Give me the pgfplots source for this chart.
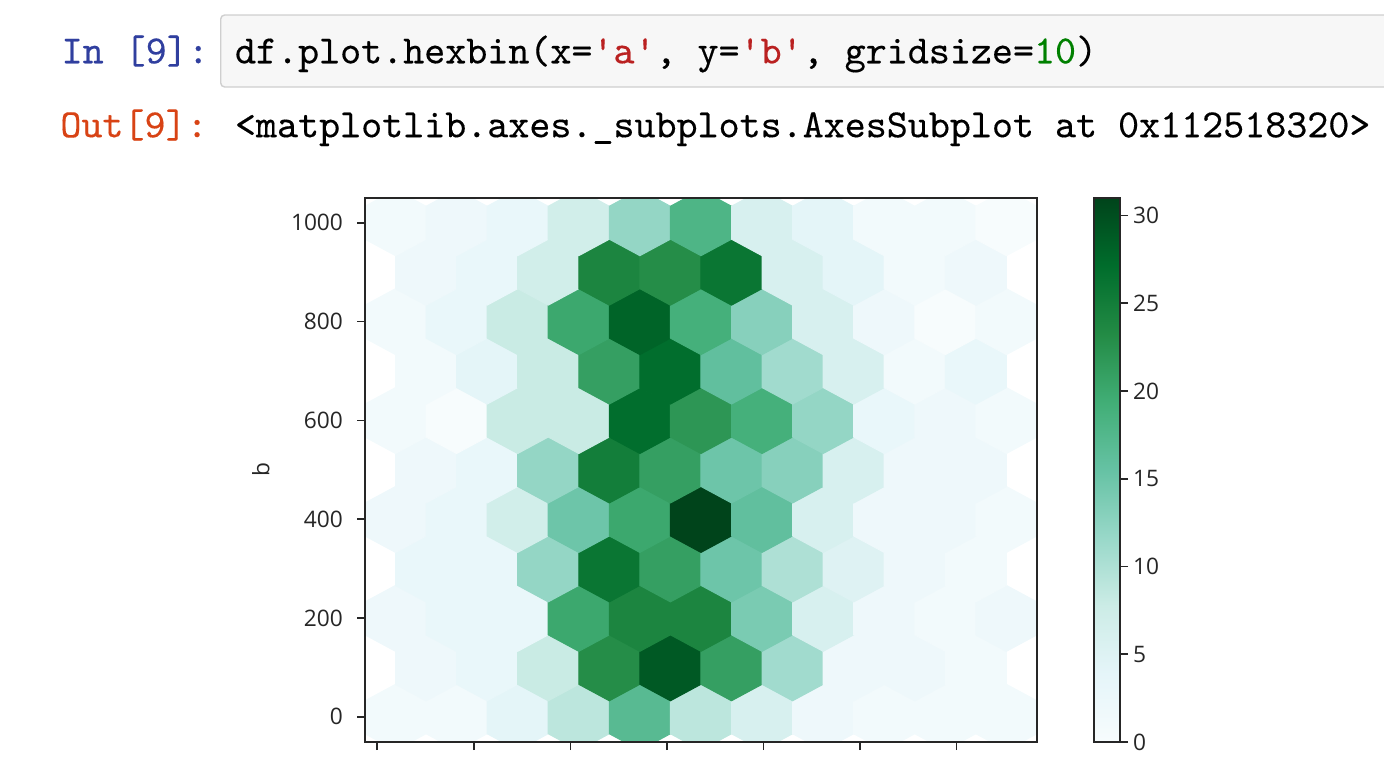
\documentclass[border=0pt]{standalone}
\usepackage{fontspec}
\setmainfont{Open Sans}
\setmonofont{lmmono10-regular.otf}[FakeBold=0.3]
\usepackage{pgfplots}
\pgfplotsset{compat=1.18}

\definecolor{inblue}{HTML}{303F9F}
\definecolor{outred}{HTML}{D84315}
\definecolor{strred}{HTML}{BA2121}
\definecolor{numgreen}{HTML}{008000}
\definecolor{cellbg}{HTML}{F7F7F7}
\definecolor{cellborder}{HTML}{CFCFCF}
\definecolor{axcol}{HTML}{262626}

% pointy-top hexagon, sized to one hexbin cell (gridsize=10)
\pgfdeclareplotmark{hex}{%
  \pgfpathmoveto{\pgfpoint{0bp}{16.48bp}}%
  \pgfpathlineto{\pgfpoint{15.27bp}{8.24bp}}%
  \pgfpathlineto{\pgfpoint{15.27bp}{-8.24bp}}%
  \pgfpathlineto{\pgfpoint{0bp}{-16.48bp}}%
  \pgfpathlineto{\pgfpoint{-15.27bp}{-8.24bp}}%
  \pgfpathlineto{\pgfpoint{-15.27bp}{8.24bp}}%
  \pgfpathclose
  \pgfusepathqfillstroke
}

\pgfplotsset{
  colormap={BuGn}{rgb255=(247,252,253) rgb255=(229,245,249) rgb255=(204,236,230)
    rgb255=(153,216,201) rgb255=(102,194,164) rgb255=(65,174,118)
    rgb255=(35,139,69) rgb255=(0,109,44) rgb255=(0,68,27)},
}

\begin{document}
\begin{tikzpicture}
% notebook cell
\draw[cellborder, fill=cellbg, line width=0.7bp, rounded corners=2bp]
  (110.35bp,-7.5bp) rectangle (705bp,-43.5bp);
\node[anchor=base west, inner sep=0pt, text=inblue] at (30.6bp,-31.65bp)
  {\ttfamily\fontsize{20.1}{24}\selectfont In [9]:};
\node[anchor=base west, inner sep=0pt] at (117.3bp,-31.65bp)
  {\ttfamily\fontsize{20.1}{24}\selectfont df.plot.hexbin(x=\textcolor{strred}{'a'}, y=\textcolor{strred}{'b'}, gridsize=\textcolor{numgreen}{10})};
\node[anchor=base west, inner sep=0pt, text=outred] at (30.0bp,-68.6bp)
  {\ttfamily\fontsize{20.1}{24}\selectfont Out[9]:};
\node[anchor=base west, inner sep=0pt] at (117.3bp,-68.6bp)
  {\ttfamily\fontsize{20.1}{24}\selectfont <matplotlib.axes.\_subplots.AxesSubplot at 0x112518320>};

\begin{axis}[
  at={(182.5bp,-371bp)}, anchor=south west,
  scale only axis, width=336bp, height=272bp,
  xmin=-3.126, xmax=3.832, ymin=-51.05, ymax=1050.05,
  xtick={-3,-2,-1,0,1,2,3}, xticklabels={},
  ytick={0,200,400,600,800,1000},
  tick align=outside, xtick pos=bottom, ytick pos=left,
  major tick length=4bp,
  axis line style={axcol, line width=0.8bp},
  every tick/.style={axcol, line width=0.8bp},
  tick label style={font=\fontsize{11.4}{13}\selectfont, text=axcol},
  yticklabel style={xshift=-3.5bp},
  /pgf/number format/assume math mode=true,
  /pgf/number format/1000 sep={},
  ylabel={b},
  every axis y label/.style={at={(axis description cs:-0.155,0.5)}, rotate=90,
    anchor=center, font=\fontsize{11.4}{13}\selectfont, text=axcol},
  colormap name=BuGn,
  point meta min=0, point meta max=31,
  colorbar,
  colorbar style={
    at={(parent axis.north east)}, anchor=north west, xshift=20bp,
    scale only axis, width=13bp, height=272bp,
    xtick=\empty, ytick={0,5,10,15,20,25,30},
    tick align=outside, ytick pos=right, yticklabel pos=right,
    major tick length=4bp,
    axis line style={axcol, line width=0.8bp},
    every tick/.style={axcol, line width=0.8bp},
    tick label style={font=\fontsize{11.4}{13}\selectfont, text=axcol},
    yticklabel style={xshift=-1bp},
    /pgf/number format/assume math mode=true,
  },
  axis on top,
  clip marker paths=true,
]
\addplot[scatter, only marks, mark=hex, mark options={line width=0.5bp},
  point meta=explicit,
  scatter/use mapped color={draw=mapped color, fill=mapped color}]
  table[x=x, y=y, meta=c] {
x y c
-2.8100 -1 1
-2.1775 -1 1
-1.5450 -1 4
-0.9125 -1 9
-0.2800 -1 17
0.3525 -1 9
0.9850 -1 6
1.6175 -1 2
2.2500 -1 1
2.8825 -1 1
3.5150 -1 1
-2.4938 99.1 2
-1.8613 99.1 3
-1.2288 99.1 8
-0.5963 99.1 23
0.0363 99.1 29
0.6688 99.1 21
1.3013 99.1 11
1.9338 99.1 2
2.5663 99.1 2
3.1988 99.1 1
-2.8100 199.2 2
-2.1775 199.2 3
-1.5450 199.2 3
-0.9125 199.2 20
-0.2800 199.2 24
0.3525 199.2 24
0.9850 199.2 14
1.6175 199.2 6
2.2500 199.2 2
2.8825 199.2 1
3.5150 199.2 2
-2.4938 299.3 3
-1.8613 299.3 3
-1.2288 299.3 12
-0.5963 299.3 26
0.0363 299.3 21
0.6688 299.3 15
1.3013 299.3 10
1.9338 299.3 5
2.5663 299.3 2
3.1988 299.3 1
-2.8100 399.4 2
-2.1775 399.4 3
-1.5450 399.4 7
-0.9125 399.4 15
-0.2800 399.4 20
0.3525 399.4 31
0.9850 399.4 16
1.6175 399.4 6
2.2500 399.4 2
2.8825 399.4 2
3.5150 399.4 1
-2.4938 499.5 2
-1.8613 499.5 3
-1.2288 499.5 12
-0.5963 499.5 25
0.0363 499.5 21
0.6688 499.5 15
1.3013 499.5 13
1.9338 499.5 6
2.5663 499.5 2
3.1988 499.5 2
-2.8100 599.6 1
-2.1775 599.6 0
-1.5450 599.6 8
-0.9125 599.6 8
-0.2800 599.6 27
0.3525 599.6 22
0.9850 599.6 19
1.6175 599.6 12
2.2500 599.6 3
2.8825 599.6 2
3.5150 599.6 1
-2.4938 699.7 1
-1.8613 699.7 4
-1.2288 699.7 8
-0.5963 699.7 21
0.0363 699.7 27
0.6688 699.7 16
1.3013 699.7 11
1.9338 699.7 6
2.5663 699.7 1
3.1988 699.7 3
-2.8100 799.8 1
-2.1775 799.8 3
-1.5450 799.8 8
-0.9125 799.8 20
-0.2800 799.8 28
0.3525 799.8 19
0.9850 799.8 13
1.6175 799.8 6
2.2500 799.8 2
2.8825 799.8 0
3.5150 799.8 1
-2.4938 899.9 2
-1.8613 899.9 3
-1.2288 899.9 7
-0.5963 899.9 24
0.0363 899.9 23
0.6688 899.9 26
1.3013 899.9 6
1.9338 899.9 4
2.5663 899.9 1
3.1988 899.9 2
-2.8100 1000 1
-2.1775 1000 2
-1.5450 1000 3
-0.9125 1000 7
-0.2800 1000 12
0.3525 1000 18
0.9850 1000 6
1.6175 1000 4
2.2500 1000 1
2.8825 1000 1
3.5150 1000 0
};
\end{axis}

\pgfresetboundingbox
\useasboundingbox (0bp,0bp) rectangle (692bp,-392bp);
\end{tikzpicture}
\end{document}
